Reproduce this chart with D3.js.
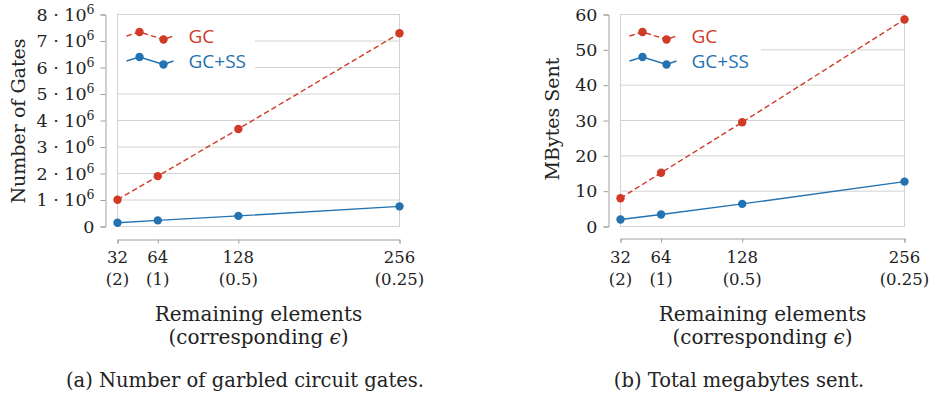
<!DOCTYPE html>
<html>
<head>
<meta charset="utf-8">
<script src="https://cdn.jsdelivr.net/npm/d3@7"></script>
<style>
  body { margin: 0; background: #fff; }
  svg { display: block; }
  .serif { font-family: 'DejaVu Serif', serif; fill: #222; }
</style>
</head>
<body>
<svg width="929" height="394"></svg>
<script>
// data
const elements = [32, 64, 128, 256]
const epsLabels = ['(2)', '(1)', '(0.5)', '(0.25)']
const seriesNames = ['GC', 'GC+SS']
const gatesGC = [1.01e6, 1.90e6, 3.68e6, 7.29e6]
const gatesGCSS = [0.14e6, 0.23e6, 0.40e6, 0.76e6]
const mbGC = [8.0, 15.2, 29.5, 58.6]
const mbGCSS = [2.0, 3.4, 6.4, 12.7]
const gateTicks = [0, 1, 2, 3, 4, 5, 6, 7, 8].map(d => d * 1e6)
const mbTicks = [0, 10, 20, 30, 40, 50, 60]

const svg = d3.select('svg')
const colors = ['#d03a26', '#2372b1']
const dashes = ['5.5,3', null]

const panels = [
  {
    left: 117.5, right: 399.5, axisX: 105.5, axisY: 239.5,
    yMax: 8e6, ticks: gateTicks, series: [gatesGC, gatesGCSS],
    yTitle: 'Number of Gates', titleX: 18, titleY: 121, legendW: 137,
    sci: true, caption: '(a) Number of garbled circuit gates.', capX: 245
  },
  {
    left: 620.5, right: 904.5, axisX: 608.5, axisY: 238.5,
    yMax: 60, ticks: mbTicks, series: [mbGC, mbGCSS],
    yTitle: 'MBytes Sent', titleX: 552, titleY: 119, legendW: 140,
    sci: false, caption: '(b) Total megabytes sent.', capX: 739
  }
]

const plotTop = 14.5
const plotBottom = 226.5

panels.forEach(p => {
  const g = svg.append('g')
  const x = d3.scaleLinear().domain([32, 256]).range([p.left, p.right])
  const y = d3.scaleLinear().domain([0, p.yMax]).range([plotBottom, plotTop])

  // grid and frame
  g.selectAll('line.grid').data(p.ticks).enter().append('line')
      .attr('class', 'grid')
      .attr('x1', p.left).attr('x2', p.right)
      .attr('y1', d => y(d)).attr('y2', d => y(d))
      .attr('stroke', '#d2d2d2').attr('stroke-width', 1)
  g.append('rect')
      .attr('x', p.left).attr('y', plotTop)
      .attr('width', p.right - p.left).attr('height', plotBottom - plotTop)
      .attr('fill', 'none').attr('stroke', '#d2d2d2')

  // y axis, offset to the left
  const yAxis = d3.axisLeft(y).tickValues(p.ticks).tickSizeOuter(0).tickSize(5).tickPadding(6)
      .tickFormat(d => p.sci ? '' : d)
  const ya = g.append('g').attr('transform', `translate(${p.axisX},0)`).call(yAxis)
  ya.select('.domain').attr('stroke', '#a0a0a0')
  ya.selectAll('.tick line').attr('stroke', '#a0a0a0')
  ya.selectAll('.tick text').attr('class', 'serif').style('font-size', '17.5px')
      .attr('font-family', null).attr('fill', '#222')
  if (p.sci) {
    ya.selectAll('.tick text').each(function (d) {
      const t = d3.select(this)
      if (d === 0) { t.text('0'); return }
      t.append('tspan').text(`${d / 1e6} · 10`)
      t.append('tspan').text('6').attr('dy', -7).style('font-size', '12.5px')
    })
  }

  // x axis, offset below
  const xAxis = d3.axisBottom(x).tickValues(elements).tickSizeOuter(0).tickSize(4).tickFormat('')
  const xa = g.append('g').attr('transform', `translate(0,${p.axisY})`).call(xAxis)
  xa.select('.domain').attr('stroke', '#a0a0a0')
  xa.selectAll('.tick line').attr('stroke', '#a0a0a0')
  g.selectAll('text.xl').data(elements).enter().append('text')
      .attr('class', 'serif xl').attr('x', d => x(d)).attr('y', 263)
      .attr('text-anchor', 'middle').style('font-size', '16.5px').text(d => d)
  g.selectAll('text.xe').data(epsLabels).enter().append('text')
      .attr('class', 'serif xe').attr('x', (d, i) => x(elements[i])).attr('y', 285)
      .attr('text-anchor', 'middle').style('font-size', '16.5px').text(d => d)

  // titles
  const midX = (p.left + p.right) / 2
  g.append('text').attr('class', 'serif').attr('x', midX).attr('y', 321)
      .attr('text-anchor', 'middle').style('font-size', '20px').text('Remaining elements')
  const t2 = g.append('text').attr('class', 'serif').attr('x', midX).attr('y', 344)
      .attr('text-anchor', 'middle').style('font-size', '20px')
  t2.append('tspan').text('(corresponding ')
  t2.append('tspan').text('ϵ').style('font-style', 'italic')
  t2.append('tspan').text(')')
  g.append('text').attr('class', 'serif')
      .attr('transform', `translate(${p.titleX},${p.titleY}) rotate(-90)`)
      .attr('dy', '0.35em').attr('text-anchor', 'middle').style('font-size', '19px')
      .text(p.yTitle)
  g.append('text').attr('class', 'serif').attr('x', p.capX).attr('y', 387)
      .attr('text-anchor', 'middle').style('font-size', '19.5px').text(p.caption)

  // series
  const line = d3.line().x((d, i) => x(elements[i])).y(d => y(d))
  p.series.forEach((s, k) => {
    g.append('path').datum(s).attr('d', line)
        .attr('fill', 'none').attr('stroke', colors[k]).attr('stroke-width', 1.4)
        .attr('stroke-dasharray', dashes[k])
    g.selectAll(`circle.s${k}`).data(s).enter().append('circle')
        .attr('class', `s${k}`)
        .attr('cx', (d, i) => x(elements[i])).attr('cy', d => y(d))
        .attr('r', 4.2).attr('fill', colors[k])
  })

  // legend
  const lg = g.append('g').attr('transform', `translate(${p.left},${plotTop})`)
  lg.append('rect').attr('x', 0.5).attr('y', 0.5).attr('width', p.legendW).attr('height', 63)
      .attr('fill', '#fff')
  seriesNames.forEach((name, k) => {
    const oy = k * 25
    const pts = [[9, 21.5 + oy], [22, 17.5 + oy], [46, 25 + oy], [56, 21.5 + oy]]
    lg.append('path').attr('d', d3.line()(pts))
        .attr('fill', 'none').attr('stroke', colors[k]).attr('stroke-width', 1.4)
        .attr('stroke-dasharray', dashes[k])
    lg.selectAll(`circle.l${k}`).data([pts[1], pts[2]]).enter().append('circle')
        .attr('class', `l${k}`).attr('cx', d => d[0]).attr('cy', d => d[1])
        .attr('r', 4.2).attr('fill', colors[k])
    lg.append('text').attr('x', 71).attr('y', 28.5 + oy)
        .style('font-family', "'Open Sans', sans-serif").style('font-size', '19px')
        .attr('fill', colors[k]).text(name)
  })
})
</script>
</body>
</html>
